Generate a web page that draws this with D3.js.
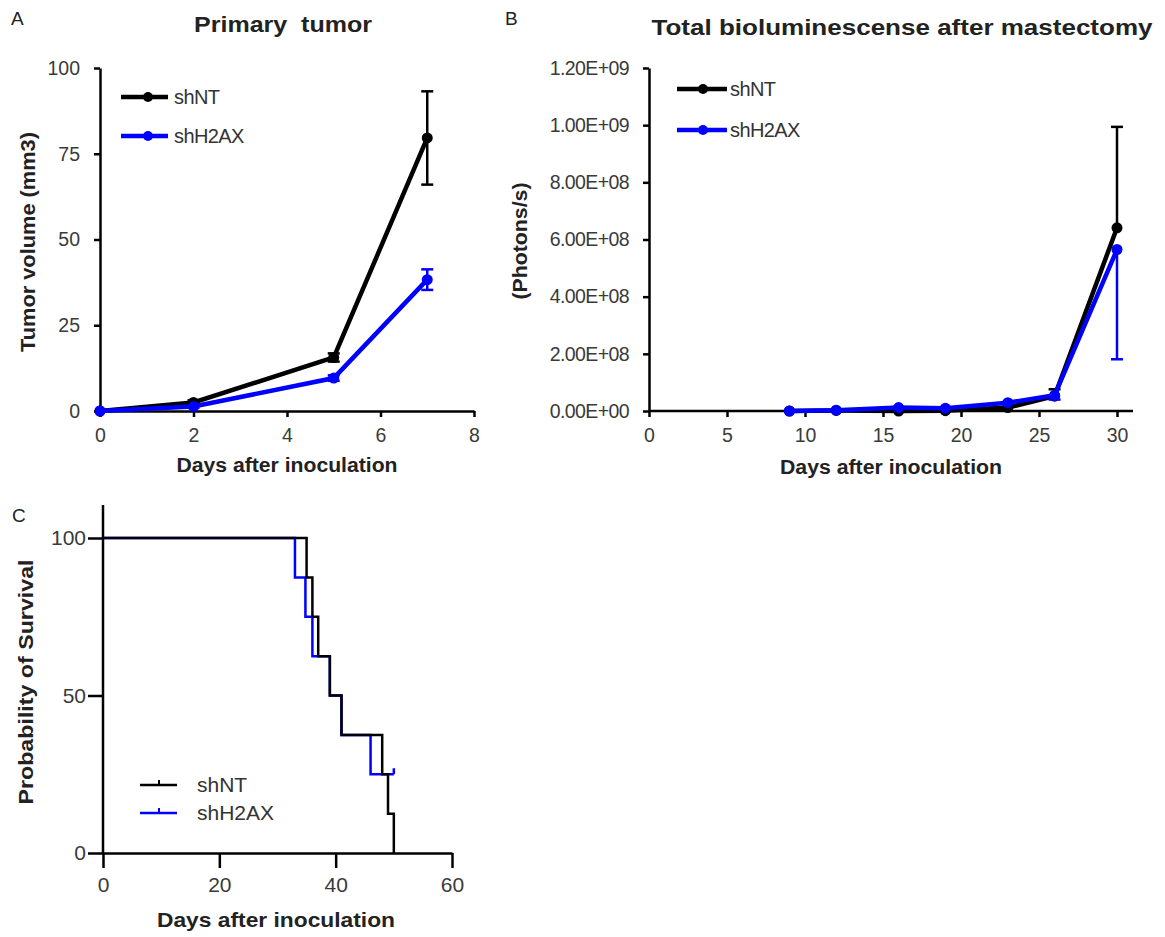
<!DOCTYPE html>
<html>
<head>
<meta charset="utf-8">
<script src="https://cdn.jsdelivr.net/npm/d3@7"></script>
<style>
  body { margin: 0; background: #fff; }
  svg { font-family: "Liberation Sans", Arial, sans-serif; }
  .tick text { fill: #3a3a3a; }
  .bold { font-weight: bold; fill: #222; }
</style>
</head>
<body>
<svg id="fig" width="1165" height="937"></svg>
<script>
// ---- Panel A: primary tumor volume ----
var tumorDays = [0, 2, 5, 7];
var tumorNT = [0, 2.5, 15.6, 79.6];
var tumorNTErr = [0, 0.6, 1.2, 13.6];
var tumorH2AX = [0, 1.3, 9.6, 38.3];
var tumorH2AXErr = [0, 0.4, 0.8, 3.0];
var tumorXTicks = [0, 2, 4, 6, 8];
var tumorYTicks = [0, 25, 50, 75, 100];

// ---- Panel B: bioluminescence ----
var bliDays = [9, 12, 16, 19, 23, 26, 30];
var bliNT = [0, 2e6, 0, 1e6, 1.2e7, 5.2e7, 6.41e8];
var bliNTErr = [0, 0, 0, 0, 0, 2.4e7, 3.53e8];
var bliH2AX = [0, 3e6, 1.2e7, 1.0e7, 2.9e7, 5.5e7, 5.65e8];
var bliH2AXErr = [0, 0, 0, 0, 0, 1.5e7, 3.84e8];
var bliXTicks = [0, 5, 10, 15, 20, 25, 30];
var bliYTicks = [0, 2e8, 4e8, 6e8, 8e8, 1e9, 1.2e9];
var bliYLabels = ["0.00E+00", "2.00E+08", "4.00E+08", "6.00E+08", "8.00E+08", "1.00E+09", "1.20E+09"];

// ---- Panel C: survival (Kaplan-Meier steps) ----
var survNTDays = [0, 35, 36, 37, 39, 41, 48, 49, 50];
var survNT = [100, 87.5, 75, 62.5, 50, 37.5, 25, 12.5, 0];
var survH2AXDays = [0, 33, 34.8, 36, 39, 41, 46, 50];
var survH2AX = [100, 87.5, 75, 62.5, 50, 37.5, 25, 25];
var survXTicks = [0, 20, 40, 60];
var survYTicks = [0, 50, 100];

var seriesNames = ["shNT", "shH2AX"];
var colors = ["#000000", "#0000ff"];

var svg = d3.select("#fig");

function styleAxis(g, w, fs) {
  g.selectAll(".domain").attr("stroke", "#000").attr("stroke-width", w);
  g.selectAll(".tick line").attr("stroke", "#000").attr("stroke-width", w);
  g.selectAll(".tick text").style("font-size", fs + "px").attr("font-family", null);
}

function label(g, txt, x, y, fs, len, rot) {
  var t = g.append("text").attr("class", "bold")
    .attr("text-anchor", "middle").style("font-size", fs + "px")
    .attr("textLength", len).attr("lengthAdjust", "spacingAndGlyphs").text(txt);
  if (rot) t.attr("transform", "translate(" + x + "," + y + ") rotate(-90)");
  else t.attr("x", x).attr("y", y);
  return t;
}

// panel letters
[["A", 11, 25], ["B", 505, 25], ["C", 12, 522]].forEach(function(d) {
  svg.append("text").attr("x", d[1]).attr("y", d[2]).text(d[0])
    .style("font-size", "19px").style("fill", "#222");
});

// ================= Panel A =================
(function() {
  var x = d3.scaleLinear().domain([0, 8]).range([100, 474]);
  var y = d3.scaleLinear().domain([0, 100]).range([411, 68]);
  var g = svg.append("g");

  var xa = g.append("g").attr("transform", "translate(0,411)")
    .call(d3.axisBottom(x).tickValues(tumorXTicks).tickSize(6).tickPadding(11).tickSizeOuter(0));
  var ya = g.append("g").attr("transform", "translate(100,0)")
    .call(d3.axisLeft(y).tickValues(tumorYTicks).tickSize(6).tickPadding(14).tickSizeOuter(0));
  styleAxis(xa, 2.5, 19.5); styleAxis(ya, 2.5, 19.5);

  var sets = [
    {v: tumorNT, e: tumorNTErr, c: colors[0]},
    {v: tumorH2AX, e: tumorH2AXErr, c: colors[1]}
  ];
  var line = d3.line().x(function(d) { return x(d[0]); }).y(function(d) { return y(d[1]); });
  sets.forEach(function(s) {
    var pts = tumorDays.map(function(d, i) { return [d, s.v[i], s.e[i]]; });
    var eb = g.append("g");
    pts.forEach(function(p) {
      if (p[2] <= 0) return;
      eb.append("line").attr("x1", x(p[0])).attr("x2", x(p[0]))
        .attr("y1", y(p[1] - p[2])).attr("y2", y(p[1] + p[2]))
        .attr("stroke", s.c).attr("stroke-width", 2.5);
      [p[1] - p[2], p[1] + p[2]].forEach(function(v) {
        eb.append("line").attr("x1", x(p[0]) - 6).attr("x2", x(p[0]) + 6)
          .attr("y1", y(v)).attr("y2", y(v)).attr("stroke", s.c).attr("stroke-width", 2.5);
      });
    });
    g.append("path").datum(pts).attr("d", line).attr("fill", "none")
      .attr("stroke", s.c).attr("stroke-width", 4.5);
    g.selectAll(null).data(pts).enter().append("circle")
      .attr("cx", function(d) { return x(d[0]); }).attr("cy", function(d) { return y(d[1]); })
      .attr("r", 5.5).attr("fill", s.c);
  });

  // legend
  seriesNames.forEach(function(n, i) {
    var ly = 97 + i * 39;
    g.append("line").attr("x1", 121).attr("x2", 168).attr("y1", ly).attr("y2", ly)
      .attr("stroke", colors[i]).attr("stroke-width", 4.5);
    g.append("circle").attr("cx", 148).attr("cy", ly).attr("r", 5).attr("fill", colors[i]);
    g.append("text").attr("x", 174).attr("y", ly + 7).text(n)
      .style("font-size", "20px").style("fill", "#333").style("letter-spacing", "-0.6px");
  });

  label(g, "Primary  tumor", 283, 32, 22, 178).style("white-space", "pre");
  label(g, "Days after inoculation", 287, 472, 20, 221);
  label(g, "Tumor volume (mm3)", 35, 242, 20, 220, true);
})();

// ================= Panel B =================
(function() {
  var x = d3.scaleLinear().domain([0, 30]).range([649, 1117]);
  var y = d3.scaleLinear().domain([0, 1.2e9]).range([411, 68]);
  var g = svg.append("g");

  var xa = g.append("g").attr("transform", "translate(0,411)")
    .call(d3.axisBottom(x).tickValues(bliXTicks).tickSize(6).tickPadding(11).tickSizeOuter(0));
  xa.select(".domain").attr("d", "M649,0H1133");
  var ya = g.append("g").attr("transform", "translate(649,0)")
    .call(d3.axisLeft(y).tickValues(bliYTicks)
      .tickFormat(function(d, i) { return bliYLabels[i]; })
      .tickSize(6).tickPadding(14).tickSizeOuter(0));
  styleAxis(xa, 2.5, 19.5); styleAxis(ya, 2.5, 19.5);
  ya.selectAll(".tick text").style("letter-spacing", "-0.6px");

  var sets = [
    {v: bliNT, e: bliNTErr, c: colors[0], dir: 1},
    {v: bliH2AX, e: bliH2AXErr, c: colors[1], dir: -1}
  ];
  var line = d3.line().x(function(d) { return x(d[0]); }).y(function(d) { return y(d[1]); });
  sets.forEach(function(s) {
    var pts = bliDays.map(function(d, i) { return [d, s.v[i], s.e[i]]; });
    var eb = g.append("g");
    pts.forEach(function(p) {
      if (p[2] <= 0) return;
      var end = p[1] + s.dir * p[2];
      eb.append("line").attr("x1", x(p[0])).attr("x2", x(p[0]))
        .attr("y1", y(p[1])).attr("y2", y(end))
        .attr("stroke", s.c).attr("stroke-width", 2.5);
      eb.append("line").attr("x1", x(p[0]) - 6).attr("x2", x(p[0]) + 6)
        .attr("y1", y(end)).attr("y2", y(end)).attr("stroke", s.c).attr("stroke-width", 2.5);
    });
    g.append("path").datum(pts).attr("d", line).attr("fill", "none")
      .attr("stroke", s.c).attr("stroke-width", 4.5);
    g.selectAll(null).data(pts).enter().append("circle")
      .attr("cx", function(d) { return x(d[0]); }).attr("cy", function(d) { return y(d[1]); })
      .attr("r", 5.5).attr("fill", s.c);
  });

  seriesNames.forEach(function(n, i) {
    var ly = 89 + i * 41;
    g.append("line").attr("x1", 677).attr("x2", 727).attr("y1", ly).attr("y2", ly)
      .attr("stroke", colors[i]).attr("stroke-width", 4.5);
    g.append("circle").attr("cx", 703).attr("cy", ly).attr("r", 5).attr("fill", colors[i]);
    g.append("text").attr("x", 730).attr("y", ly + 7).text(n)
      .style("font-size", "20px").style("fill", "#333").style("letter-spacing", "-0.6px");
  });

  label(g, "Total bioluminescense after mastectomy", 902, 35, 22, 501);
  label(g, "Days after inoculation", 891, 474, 20, 222);
  label(g, "(Photons/s)", 527, 241, 20, 117, true);
})();

// ================= Panel C =================
(function() {
  var x = d3.scaleLinear().domain([0, 60]).range([103, 452]);
  var y = d3.scaleLinear().domain([0, 100]).range([853, 538]);
  var g = svg.append("g");

  var xa = g.append("g").attr("transform", "translate(0,853)")
    .call(d3.axisBottom(x).tickValues(survXTicks).tickSize(15).tickPadding(9).tickSizeOuter(0));
  var ya = g.append("g").attr("transform", "translate(103,0)")
    .call(d3.axisLeft(y).tickValues(survYTicks).tickSize(15).tickPadding(2).tickSizeOuter(0));
  ya.select(".domain").attr("d", "M0," + y(110.5) + "V" + y(0));
  styleAxis(xa, 2.5, 21); styleAxis(ya, 2.5, 21);

  var step = d3.line().curve(d3.curveStepAfter)
    .x(function(d) { return x(d[0]); }).y(function(d) { return y(d[1]); });
  var h2 = survH2AXDays.map(function(d, i) { return [d, survH2AX[i]]; });
  var nt = survNTDays.map(function(d, i) { return [d, survNT[i]]; });
  g.append("path").datum(h2).attr("d", step).attr("fill", "none")
    .attr("stroke", colors[1]).attr("stroke-width", 2.5);
  // censored tick at end of shH2AX
  var last = h2[h2.length - 1];
  g.append("line").attr("x1", x(last[0])).attr("x2", x(last[0]))
    .attr("y1", y(last[1])).attr("y2", y(last[1]) - 6)
    .attr("stroke", colors[1]).attr("stroke-width", 2.5);
  g.append("path").datum(nt).attr("d", step).attr("fill", "none")
    .attr("stroke", colors[0]).attr("stroke-width", 2.5);

  seriesNames.forEach(function(n, i) {
    var ly = 785 + i * 28;
    g.append("line").attr("x1", 140).attr("x2", 177).attr("y1", ly).attr("y2", ly)
      .attr("stroke", colors[i]).attr("stroke-width", 2.5);
    g.append("line").attr("x1", 159).attr("x2", 159).attr("y1", ly).attr("y2", ly - 5)
      .attr("stroke", colors[i]).attr("stroke-width", 2);
    g.append("text").attr("x", 197).attr("y", ly + 7).text(n)
      .style("font-size", "21px").style("fill", "#333");
  });

  label(g, "Days after inoculation", 276, 927, 21, 238);
  label(g, "Probability of Survival", 33, 682, 21, 245, true);
})();
</script>
</body>
</html>
